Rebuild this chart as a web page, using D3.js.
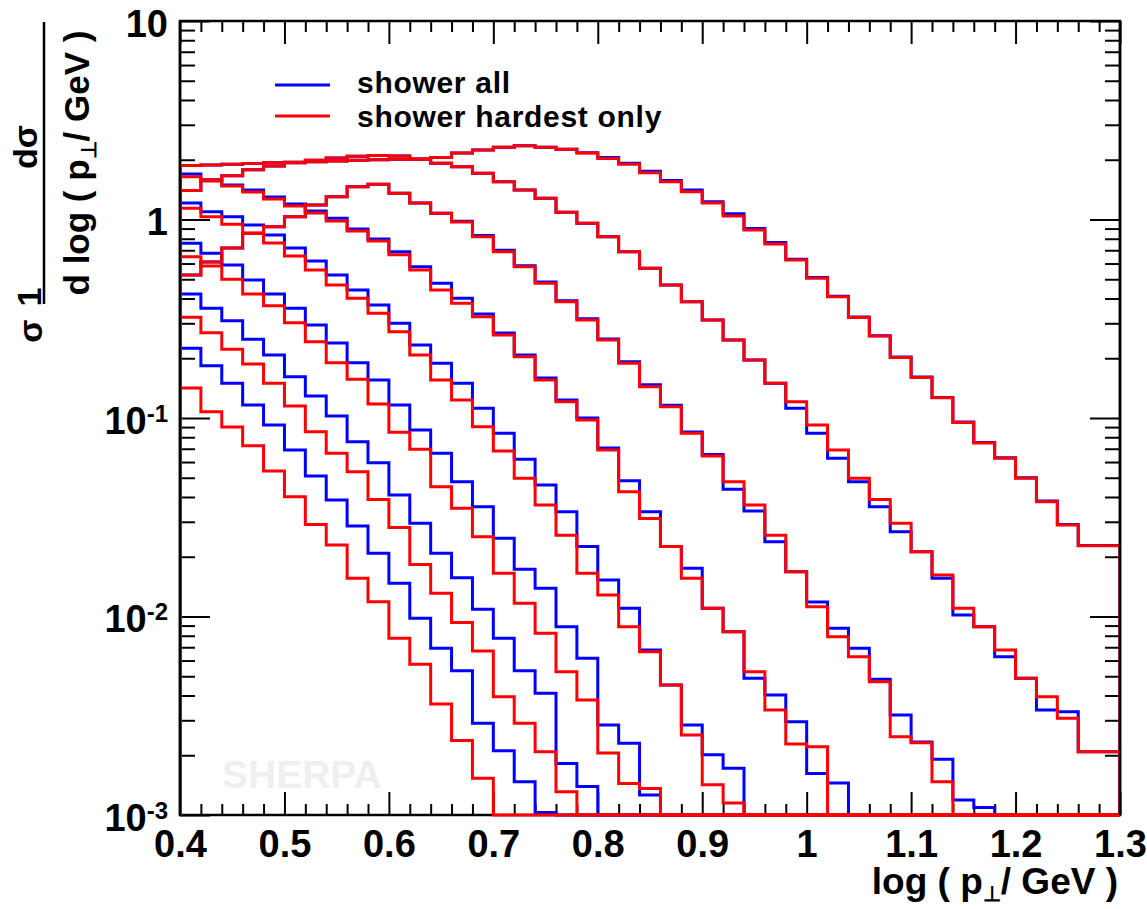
<!DOCTYPE html>
<html>
<head>
<meta charset="utf-8">
<script src="https://cdn.jsdelivr.net/npm/d3@7"></script>
<style>
  body { margin: 0; background: #ffffff; }
  svg text { font-family: "Liberation Sans", Arial, Helvetica, sans-serif; font-weight: bold; fill: #000; }
</style>
</head>
<body>
<svg></svg>
<script>
// Bins: 45 bins of width 0.02 between 0.4 and 1.3 (lower edges)
const binWidth = 0.02;
const binLow = d3.range(45).map(i => +(0.4 + i * binWidth).toFixed(2));

// Tick values
const xMajor = [0.4, 0.5, 0.6, 0.7, 0.8, 0.9, 1.0, 1.1, 1.2, 1.3];
const yMajor = [1e-3, 1e-2, 1e-1, 1, 10];

// "shower all" (blue) histograms, one per curve; bins past the end of a list are empty
const showerAll1 = [1.87,1.88,1.90,1.915,1.93,1.94,1.955,1.97,1.99,2.00,2.01,2.02,2.05,2.16,2.24,2.31,2.35,2.31,2.26,2.17,2.05,1.92,1.75,1.57,1.41,1.23,1.07,0.90,0.765,0.63,0.51,0.41,0.323,0.26,0.203,0.161,0.127,0.0955,0.0752,0.063,0.05,0.0382,0.0291,0.0228,0.0228];
const showerAll2 = [1.40,1.58,1.66,1.78,1.86,1.93,1.99,2.04,2.08,2.10,2.09,2.01,1.92,1.845,1.71,1.55,1.408,1.279,1.087,0.957,0.819,0.688,0.568,0.468,0.385,0.312,0.247,0.196,0.1496,0.1119,0.0837,0.0627,0.0478,0.0357,0.0267,0.0212,0.01558,0.01018,0.00889,0.00627,0.00488,0.00338,0.00331,0.00208,0.00208];
const showerAll3 = [0.525,0.611,0.718,0.852,0.920,1.033,1.183,1.303,1.463,1.504,1.355,1.21,1.075,0.98,0.83,0.70,0.585,0.485,0.39,0.316,0.25,0.192,0.147,0.116,0.085,0.0655,0.0437,0.034,0.0238,0.0168,0.01183,0.00872,0.00692,0.00483,0.00319,0.00233,0.00191,0.00119,0.00109];
const showerAll4 = [1.695,1.58,1.492,1.408,1.298,1.197,1.104,1.014,0.896,0.798,0.688,0.578,0.477,0.401,0.334,0.268,0.2077,0.159,0.1232,0.100,0.0706,0.0483,0.0337,0.0225,0.0175,0.0110,0.00838,0.00488,0.00402,0.00295,0.00162,0.00145];
const showerAll5 = [1.21,1.095,1.033,0.938,0.835,0.718,0.618,0.525,0.441,0.371,0.300,0.233,0.1887,0.1496,0.1119,0.0837,0.0619,0.0460,0.0337,0.0225,0.01527,0.0110,0.00678,0.00452,0.00284,0.00201,0.00172];
const showerAll6 = [0.759,0.676,0.590,0.496,0.421,0.357,0.294,0.239,0.190,0.1553,0.1163,0.0870,0.0664,0.0478,0.0357,0.0248,0.0173,0.01387,0.00889,0.00616,0.00284,0.00230,0.00126];
const showerAll7 = [0.421,0.357,0.309,0.249,0.2077,0.1615,0.1291,0.1023,0.0760,0.0595,0.0409,0.0295,0.0208,0.01568,0.01087,0.00777,0.00533,0.00410,0.00182,0.00139];
const showerAll8 = [0.2245,0.1835,0.1496,0.1163,0.0922,0.0690,0.0510,0.0386,0.0286,0.0208,0.0147,0.00979,0.00692,0.00533,0.00290,0.00211,0.00147,0.00103];

// "shower hardest only" (red) histograms
const hardestOnly1 = [1.87,1.88,1.90,1.915,1.93,1.94,1.955,1.97,1.99,2.00,2.01,2.02,2.05,2.16,2.24,2.31,2.35,2.31,2.26,2.16,2.03,1.90,1.72,1.55,1.38,1.21,1.04,0.885,0.753,0.625,0.506,0.408,0.321,0.259,0.2017,0.160,0.1265,0.0949,0.0748,0.0627,0.0497,0.0379,0.0289,0.0227,0.0227];
const hardestOnly2 = [1.40,1.58,1.66,1.78,1.86,1.93,1.99,2.04,2.08,2.10,2.09,2.01,1.92,1.845,1.71,1.55,1.408,1.279,1.087,0.957,0.819,0.688,0.568,0.468,0.385,0.312,0.247,0.196,0.1496,0.1208,0.0922,0.0690,0.0497,0.0389,0.0295,0.0212,0.01618,0.0110,0.00889,0.00678,0.00488,0.00394,0.00307,0.00208,0.00208];
const hardestOnly3 = [0.525,0.611,0.718,0.852,0.920,1.033,1.183,1.303,1.463,1.504,1.355,1.21,1.075,0.971,0.819,0.688,0.578,0.477,0.385,0.312,0.247,0.1887,0.1438,0.1140,0.0837,0.0644,0.0478,0.0365,0.0257,0.0168,0.0112,0.00791,0.00627,0.00469,0.00248,0.00231,0.00147];
const hardestOnly4 = [1.643,1.563,1.475,1.376,1.269,1.170,1.078,0.983,0.875,0.779,0.665,0.557,0.441,0.378,0.324,0.262,0.2036,0.1553,0.1208,0.0977,0.0690,0.0425,0.0312,0.0225,0.01558,0.0110,0.00838,0.00527,0.00338,0.00228,0.00221];
const hardestOnly5 = [1.139,1.033,0.946,0.852,0.761,0.655,0.557,0.468,0.401,0.337,0.272,0.2077,0.1553,0.1232,0.0904,0.0682,0.0497,0.0365,0.0257,0.0165,0.01283,0.00889,0.00665,0.00452,0.00253,0.00142,0.00115];
const hardestOnly6 = [0.650,0.583,0.500,0.421,0.368,0.302,0.242,0.190,0.1567,0.1176,0.0847,0.0696,0.0451,0.0351,0.0252,0.0165,0.01165,0.00823,0.00527,0.00380,0.00205,0.00144,0.00136];
const hardestOnly7 = [0.322,0.269,0.222,0.187,0.1496,0.1150,0.0853,0.0664,0.0536,0.0389,0.0281,0.0183,0.01309,0.00933,0.00670,0.00394,0.00290,0.00208,0.00131];
const hardestOnly8 = [0.1416,0.1076,0.0901,0.0725,0.0541,0.0401,0.0291,0.0229,0.01558,0.01187,0.00777,0.00574,0.00362,0.00237,0.00153];

const blueSeries = [showerAll1, showerAll2, showerAll3, showerAll4, showerAll5, showerAll6, showerAll7, showerAll8];
const redSeries = [hardestOnly1, hardestOnly2, hardestOnly3, hardestOnly4, hardestOnly5, hardestOnly6, hardestOnly7, hardestOnly8];

// Canvas
const width = 1147, height = 909;
const plot = { left: 180, right: 1120, top: 21, bottom: 815 };

const svg = d3.select("svg")
    .attr("width", width)
    .attr("height", height)
    .style("background-color", "#ffffff");

const x = d3.scaleLinear().domain([0.4, 1.3]).range([plot.left, plot.right]);
const y = d3.scaleLog().domain([1e-3, 10]).range([plot.bottom, plot.top]).clamp(true);

// watermark
svg.append("text")
    .attr("x", 222).attr("y", 788)
    .style("font-size", "39px")
    .style("fill", "#efefef")
    .text("SHERPA");

// frame (histograms are drawn over the bottom line)
svg.append("rect")
    .attr("x", plot.left).attr("y", plot.top)
    .attr("width", plot.right - plot.left).attr("height", plot.bottom - plot.top)
    .attr("fill", "none").attr("stroke", "#000").attr("stroke-width", 2.5);

// Ticks
const xMinor = d3.range(0.42, 1.3, 0.02).map(d => +d.toFixed(2)).filter(d => !xMajor.some(m => Math.abs(m - d) < 1e-6));
const yMinor = [];
[1e-3, 1e-2, 1e-1, 1].forEach(dec => { for (let k = 2; k <= 9; k++) yMinor.push(k * dec); });

function styleTicks(g) {
    g.select(".domain").remove();
    g.selectAll(".tick line").attr("stroke", "#000").attr("stroke-width", 2);
}

svg.append("g").attr("transform", `translate(0,${plot.bottom})`)
    .call(d3.axisBottom(x).tickValues(xMinor).tickSize(-11).tickFormat(""))
    .call(styleTicks);
svg.append("g").attr("transform", `translate(0,${plot.top})`)
    .call(d3.axisTop(x).tickValues(xMinor).tickSize(-11).tickFormat(""))
    .call(styleTicks);
svg.append("g").attr("transform", `translate(0,${plot.top})`)
    .call(d3.axisTop(x).tickValues(xMajor).tickSize(-23).tickFormat(""))
    .call(styleTicks);

const xAxis = svg.append("g").attr("transform", `translate(0,${plot.bottom})`)
    .call(d3.axisBottom(x).tickValues(xMajor).tickSize(-23).tickPadding(15)
        .tickFormat(d => d === 1 ? "1" : d3.format(".1f")(d)))
    .call(styleTicks);
xAxis.selectAll(".tick text").style("font-size", "38px").attr("fill", "#000");

svg.append("g").attr("transform", `translate(${plot.left},0)`)
    .call(d3.axisLeft(y).tickValues(yMinor).tickSize(-15).tickFormat(""))
    .call(styleTicks);
svg.append("g").attr("transform", `translate(${plot.right},0)`)
    .call(d3.axisRight(y).tickValues(yMinor).tickSize(-15).tickFormat(""))
    .call(styleTicks);
svg.append("g").attr("transform", `translate(${plot.right},0)`)
    .call(d3.axisRight(y).tickValues(yMajor).tickSize(-30).tickFormat(""))
    .call(styleTicks);

const yAxis = svg.append("g").attr("transform", `translate(${plot.left},0)`)
    .call(d3.axisLeft(y).tickValues(yMajor).tickSize(-30).tickPadding(12).tickFormat(""))
    .call(styleTicks);
yAxis.selectAll(".tick text").each(function(d) {
    const t = d3.select(this).attr("dy", "0.4em").style("font-size", "38px").attr("fill", "#000");
    const e = Math.round(Math.log10(d));
    if (e === 0) t.text("1");
    else if (e === 1) t.text("10");
    else {
        t.append("tspan").text("10");
        t.append("tspan").attr("dy", "-0.5em").style("font-size", "24px").text(String(e));
    }
});

// Histograms
svg.append("clipPath").attr("id", "plotClip")
    .append("rect")
    .attr("x", plot.left).attr("y", plot.top - 2)
    .attr("width", plot.right - plot.left).attr("height", plot.bottom - plot.top + 4);

function histPoints(vals) {
    const pts = [[x(binLow[0]), plot.bottom]];
    binLow.forEach((lo, i) => {
        const v = vals[i] || 0;
        const yy = v > 0 ? y(v) : plot.bottom;
        pts.push([x(lo), yy], [x(lo + binWidth), yy]);
    });
    pts.push([x(1.3), plot.bottom]);
    return pts;
}

const line = d3.line();
const hists = svg.append("g").attr("clip-path", "url(#plotClip)");
blueSeries.forEach(s => {
    hists.append("path").attr("d", line(histPoints(s)))
        .attr("fill", "none").attr("stroke", "#0000ff").attr("stroke-width", 3);
});
redSeries.forEach(s => {
    hists.append("path").attr("d", line(histPoints(s)))
        .attr("fill", "none").attr("stroke", "#ff0000").attr("stroke-width", 3);
});

// left and right frame lines on top
svg.append("line").attr("x1", plot.left).attr("x2", plot.left)
    .attr("y1", plot.top).attr("y2", plot.bottom).attr("stroke", "#000").attr("stroke-width", 2.5);
svg.append("line").attr("x1", plot.right).attr("x2", plot.right)
    .attr("y1", plot.top).attr("y2", plot.bottom).attr("stroke", "#000").attr("stroke-width", 2.5);

// Legend
const legend = [
    { label: "shower all", color: "#0000ff", y: 85 },
    { label: "shower hardest only", color: "#ff0000", y: 116 }
];
legend.forEach((l, i) => {
    svg.append("line").attr("x1", 275).attr("x2", 330).attr("y1", l.y).attr("y2", l.y)
        .attr("stroke", l.color).attr("stroke-width", 3);
    svg.append("text").attr("x", 357).attr("y", i === 0 ? 93 : 127)
        .style("font-size", "30px").style("letter-spacing", "0.7px").text(l.label);
});

// X axis title
const xTitle = svg.append("text").attr("x", 1118).attr("y", 894)
    .attr("text-anchor", "end").style("font-size", "37px");
xTitle.append("tspan").text("log ( p");
xTitle.append("tspan").attr("dy", 7).style("font-size", "21px").text("⊥");
xTitle.append("tspan").attr("dy", -7).text("/ GeV )");

// Y axis title: 1/σ  dσ / d log(p⊥/GeV), rotated
const yTitle = svg.append("g");
yTitle.append("text").attr("transform", "translate(37,147) rotate(-90)")
    .attr("text-anchor", "middle").style("font-size", "34px").text("dσ");
yTitle.append("line").attr("x1", 44).attr("x2", 44).attr("y1", 22).attr("y2", 304)
    .attr("stroke", "#000").attr("stroke-width", 2.5);
const den = yTitle.append("text").attr("transform", "translate(89,163) rotate(-90)")
    .attr("text-anchor", "middle").style("font-size", "35px");
den.append("tspan").text("d log ( p");
den.append("tspan").attr("dy", 7).style("font-size", "21px").text("⊥");
den.append("tspan").attr("dy", -7).text("/ GeV )");
yTitle.append("text").attr("transform", "translate(41,297) rotate(-90)")
    .attr("text-anchor", "middle").style("font-size", "34px").text("1");
yTitle.append("text").attr("transform", "translate(42,331) rotate(-90)")
    .attr("text-anchor", "middle").style("font-size", "34px").text("σ");
</script>
</body>
</html>
